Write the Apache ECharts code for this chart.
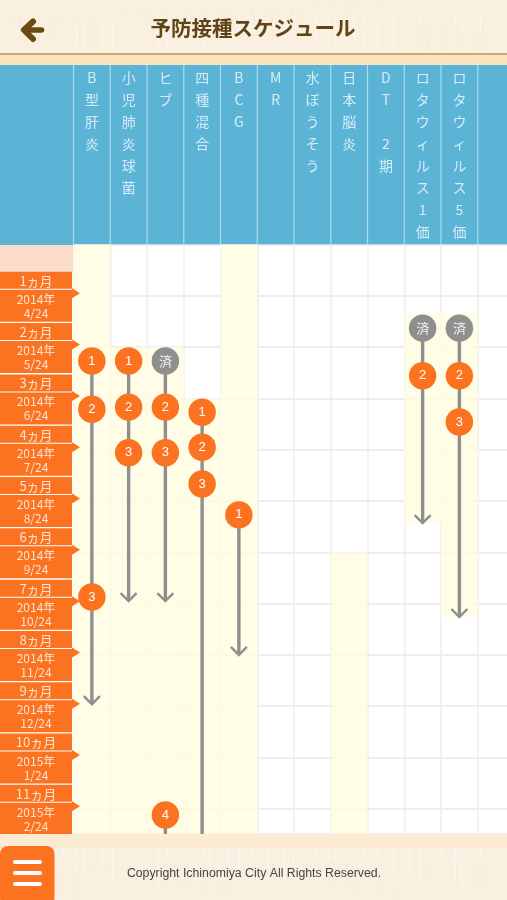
<!DOCTYPE html>
<html><head><meta charset="utf-8">
<style>html,body{margin:0;padding:0;background:#fff}#c{width:507px;height:900px}</style>
<script src="https://cdn.jsdelivr.net/npm/echarts@6/dist/echarts.min.js"></script>
</head><body><div id="c"></div>
<script>
const vaccines = ['B型肝炎','小児肺炎球菌','ヒブ','四種混合','BCG','MR','水ぼうそう','日本脳炎','DT 2期','ロタウィルス1価','ロタウィルス5価',''];
const monthRows = [1,2,3,4,5,6,7,8,9,10,11];
const monthLabels = ['1ヵ月','2ヵ月','3ヵ月','4ヵ月','5ヵ月','6ヵ月','7ヵ月','8ヵ月','9ヵ月','10ヵ月','11ヵ月'];
const dateYears = ['2014年','2014年','2014年','2014年','2014年','2014年','2014年','2014年','2014年','2015年','2015年'];
const dateDays = ['4/24','5/24','6/24','7/24','8/24','9/24','10/24','11/24','12/24','1/24','2/24'];
const maxMonth = 11.49;
// recommended periods: [vaccine, from, to]
const periods = [
  ['B型肝炎',0,maxMonth],['小児肺炎球菌',2,maxMonth],['ヒブ',2,maxMonth],['四種混合',3,maxMonth],
  ['BCG',0,maxMonth],['日本脳炎',6,maxMonth],['ロタウィルス1価',1.33,5.43],['ロタウィルス5価',1.33,7.26]
];
// arrows: [vaccine, from, to, hasHead]
const arrows = [
  ['B型肝炎',2.27,8.96,1],['小児肺炎球菌',2.27,6.95,1],['ヒブ',2.27,6.95,1],['ヒブ',11.12,maxMonth,0],
  ['四種混合',3.27,maxMonth,0],['BCG',5.27,8.0,1],['ロタウィルス1価',1.63,5.43,1],['ロタウィルス5価',1.63,7.26,1]
];
// doses: [vaccine, month, label]
const dosesDue = [
  ['B型肝炎',2.27,'1'],['B型肝炎',3.21,'2'],['B型肝炎',6.87,'3'],
  ['小児肺炎球菌',2.27,'1'],['小児肺炎球菌',3.17,'2'],['小児肺炎球菌',4.06,'3'],
  ['ヒブ',3.17,'2'],['ヒブ',4.06,'3'],['ヒブ',11.12,'4'],
  ['四種混合',3.27,'1'],['四種混合',3.95,'2'],['四種混合',4.67,'3'],
  ['BCG',5.27,'1'],
  ['ロタウィルス1価',2.56,'2'],['ロタウィルス5価',2.56,'2'],['ロタウィルス5価',3.46,'3']
];
const dosesDone = [['ヒブ',2.27,'済'],['ロタウィルス1価',1.63,'済'],['ロタウィルス5価',1.63,'済']];

const ORANGE='#fb7320', GRAY='#8f8f8f', BLUE='#5bb3d6', FONT='"Noto Sans CJK JP","Noto Sans",sans-serif';
const gridTop=244.5, gridBottom=834, gridLeft=73.5, colW=36.75;

const streaks=[];
function wood(y0,y1){
  for(let i=0;i<70;i++){
    const x=(i*7+(i*i*7)%9)%507, a=y0+(i*13)%((y1-y0)*0.5), b=a+10+(i*17)%((y1-y0)*0.6);
    streaks.push({type:'polyline',silent:true,z:-8,shape:{points:[[x,a],[x+(i%3)-1,(a+b)/2],[x+(i%2),Math.min(b,y1)]]},
      style:{fill:null,stroke:i%2?'#f7ecdb':'#fdf7ec',lineWidth:1}});
  }
}
wood(0,53); wood(848,900);

const chart=echarts.init(document.getElementById('c'),null,{width:507,height:900});
chart.setOption({
  animation:false,
  backgroundColor:'#fff',
  grid:{left:gridLeft,top:gridTop,width:colW*12,height:gridBottom-gridTop,containLabel:false,outerBoundsMode:'none'},
  xAxis:{type:'category',position:'top',data:vaccines,boundaryGap:true,
    axisLine:{show:false},axisTick:{show:false},
    axisLabel:{interval:0,margin:178,verticalAlign:'top',fontFamily:FONT,fontSize:14,lineHeight:22,color:'#d4edf7',
      formatter:v=>v.split('').join('\n')},
    splitLine:{show:true,interval:0,lineStyle:{color:'#eeeeee',width:1.5}}},
  yAxis:{type:'value',inverse:true,min:0,max:maxMonth,interval:1,
    axisLine:{show:false},axisTick:{show:false},axisLabel:{show:false},
    splitLine:{show:true,lineStyle:{color:'#e8e8e8',width:1.5}}},
  graphic:[
    {type:'rect',z:-10,shape:{x:0,y:0,width:507,height:53},style:{fill:'#faf0e1'}},
    {type:'rect',z:-10,shape:{x:0,y:848,width:507,height:52},style:{fill:'#faf0e1'}},
    ...streaks,
    {type:'rect',z:-7,shape:{x:0,y:53,width:507,height:2},style:{fill:'#cfa86f'}},
    {type:'rect',z:-7,shape:{x:0,y:55,width:507,height:10},style:{fill:'#fce3bf'}},
    {type:'rect',z:-7,shape:{x:0,y:65,width:507,height:180},style:{fill:BLUE}},
    {type:'rect',z:-7,shape:{x:0,y:245,width:73,height:28},style:{fill:'#fbdccb'}},
    {type:'rect',z:20,shape:{x:0,y:834,width:507,height:14},style:{fill:'#fcebd3'}},
    {type:'polyline',z:21,shape:{points:[[33,21.5],[24,30],[33,39]]},style:{fill:null,stroke:'#6b4a12',lineWidth:6,lineCap:'round',lineJoin:'round'}},
    {type:'polyline',z:21,shape:{points:[[26,30],[41.5,30]]},style:{fill:null,stroke:'#6b4a12',lineWidth:5.5,lineCap:'round'}},
    {type:'text',z:21,x:253,y:28,style:{text:'予防接種スケジュール',font:'bold 20.5px '+FONT,fill:'#5e4417',align:'center',verticalAlign:'middle'}},
    {type:'rect',z:21,shape:{x:0,y:846,width:54.5,height:60,r:8},style:{fill:ORANGE}},
    {type:'rect',z:22,shape:{x:13,y:860,width:29,height:4,r:2},style:{fill:'#fff'}},
    {type:'rect',z:22,shape:{x:13,y:871,width:29,height:4,r:2},style:{fill:'#fff'}},
    {type:'rect',z:22,shape:{x:13,y:882,width:29,height:4,r:2},style:{fill:'#fff'}},
    {type:'text',z:21,x:254,y:873.5,style:{text:'Copyright Ichinomiya City All Rights Reserved.',font:'12.3px "Liberation Sans",Arial,sans-serif',fill:'#444',align:'center',verticalAlign:'middle'}}
  ],
  series:[
    {type:'custom',name:'periods',z:1,data:periods,clip:false,
      renderItem(p,api){
        const a=api.coord([api.value(0),api.value(1)]), b=api.coord([api.value(0),api.value(2)]), w=api.size([1,0])[0];
        return {type:'rect',shape:{x:a[0]-w/2,y:a[1],width:w,height:b[1]-a[1]},style:{fill:'rgba(255,253,224,0.8)'}};
      }},
    {type:'custom',name:'headerDividers',z:1,clip:false,silent:true,data:vaccines.map(v=>[v,0]),
      renderItem(p,api){
        const a=api.coord([api.value(0),0]), w=api.size([1,0])[0];
        return {type:'line',shape:{x1:a[0]-w/2,y1:65,x2:a[0]-w/2,y2:a[1]},style:{stroke:'#a8dcee',lineWidth:1.2}};
      }},
    {type:'custom',name:'arrows',z:3,data:arrows,clip:true,
      renderItem(p,api){
        const a=api.coord([api.value(0),api.value(1)]), b=api.coord([api.value(0),api.value(2)]);
        const kids=[{type:'line',shape:{x1:a[0],y1:a[1],x2:b[0],y2:b[1]-(api.value(3)?1:0)},style:{stroke:GRAY,lineWidth:3.4}}];
        if(api.value(3)) kids.push({type:'polyline',shape:{points:[[b[0]-8,b[1]-8],[b[0],b[1]],[b[0]+8,b[1]-8]]},style:{fill:null,stroke:GRAY,lineWidth:2.4}});
        return {type:'group',children:kids};
      }},
    {type:'custom',name:'tags',z:5,clip:false,data:monthRows.map(m=>[0,m]),
      renderItem(p,api){
        const i=p.dataIndex, y=api.coord([0,api.value(1)])[1], t=[];
        t.push({type:'rect',shape:{x:0,y:y-24,width:72,height:17},style:{fill:ORANGE}});
        t.push({type:'polygon',shape:{points:[[0,y-6],[72,y-6],[72,y-7.5],[80,y-2.5],[72,y+2.5],[72,y+26],[0,y+26]]},style:{fill:ORANGE}});
        t.push({type:'text',x:36,y:y-15,style:{text:monthLabels[i],font:'13px '+FONT,fill:'#fde3d0',align:'center',verticalAlign:'middle'}});
        t.push({type:'text',x:36,y:y+3.5,style:{text:dateYears[i],font:'12px '+FONT,fill:'#fde3d0',align:'center',verticalAlign:'middle'}});
        t.push({type:'text',x:36,y:y+17.5,style:{text:dateDays[i],font:'12px '+FONT,fill:'#fde3d0',align:'center',verticalAlign:'middle'}});
        return {type:'group',children:t};
      }},
    {type:'scatter',name:'done',z:6,symbol:'circle',symbolSize:27.5,data:dosesDone,itemStyle:{color:GRAY,opacity:1},
      label:{show:true,position:'inside',formatter:p=>p.value[2],color:'#f2f2f2',fontSize:13,fontFamily:FONT}},
    {type:'scatter',name:'due',z:6,symbol:'circle',symbolSize:27.5,data:dosesDue,itemStyle:{color:ORANGE,opacity:1},
      label:{show:true,position:'inside',formatter:p=>p.value[2],color:'#fff',fontSize:13,fontFamily:'"Liberation Sans",Arial,sans-serif'}}
  ]
});
</script></body></html>
